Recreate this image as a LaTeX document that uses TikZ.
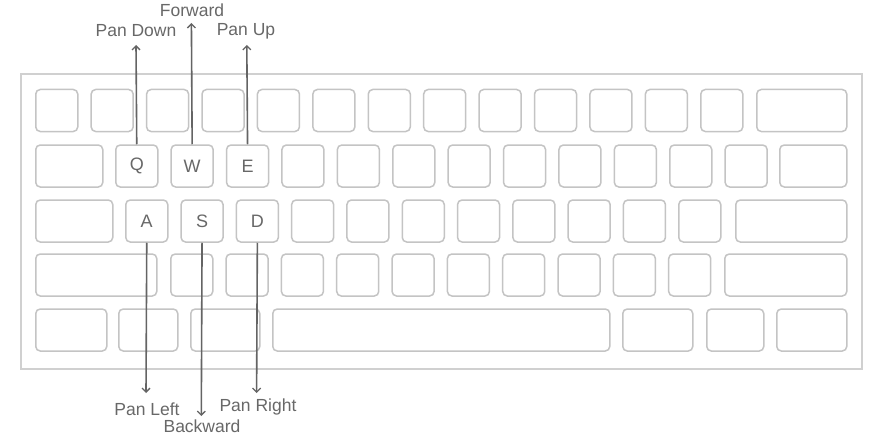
\documentclass[tikz,border=0pt]{standalone}
\usepackage{fontspec}
\setmainfont{Liberation Sans}
\usetikzlibrary{arrows.meta}
\definecolor{keyline}{HTML}{C4C4C4}
\definecolor{frameline}{HTML}{D0D0D0}
\definecolor{inkgray}{HTML}{686868}
\definecolor{arrowgray}{HTML}{646464}
\begin{document}
\begin{tikzpicture}[x=1pt,y=-1pt,
  keybox/.style={draw=keyline,line width=1.5pt,rounded corners=4.5pt,minimum height=42pt,inner sep=0pt,
     font=\fontsize{18}{18}\selectfont,text=inkgray,anchor=west},
  lbl/.style={font=\fontsize{17.5}{17.5}\selectfont,text=inkgray,anchor=base,inner sep=0pt},
  conn/.style={draw=arrowgray,line width=1.6pt,-{Straight Barb[length=4pt,width=8pt,line width=1.3pt]}}]
\useasboundingbox (0,0) rectangle (877,441);
\fill[white] (0,0) rectangle (877,441);
% frame
\node[draw=frameline,line width=2pt,minimum width=841pt,minimum height=295pt,inner sep=0pt,anchor=north west] (frame) at (20,73) {};
% row 1
\foreach \i in {0,...,12} {
  \node[keybox,minimum width=42pt] (ra\i) at ({35+55.42*\i},110.5) {};
}
\node[keybox,minimum width=90pt] (rawide) at (756,110.5) {};
% row 2
\node[keybox,minimum width=67pt] (rbl) at (35,166) {};
\node[keybox,minimum width=42pt] (Q) at (115,166) {Q};
\node[keybox,minimum width=42pt] (W) at (170.4,166) {W};
\node[keybox,minimum width=42pt] (E) at (225.8,166) {E};
\foreach \i in {3,...,11} {
  \node[keybox,minimum width=42pt] (rb\i) at ({115+55.4*\i},166) {};
}
\node[keybox,minimum width=67pt] (rbr) at (779,166) {};
% row 3
\node[keybox,minimum width=77pt] (rcl) at (35,221) {};
\node[keybox,minimum width=42pt] (A) at (125,221) {A};
\node[keybox,minimum width=42pt] (S) at (180.3,221) {S};
\node[keybox,minimum width=42pt] (D) at (235.6,221) {D};
\foreach \i in {3,...,10} {
  \node[keybox,minimum width=42pt] (rc\i) at ({125+55.3*\i},221) {};
}
\node[keybox,minimum width=111pt] (rcr) at (735,221) {};
% row 4
\node[keybox,minimum width=121pt] (rdl) at (35,275) {};
\foreach \i in {0,...,9} {
  \node[keybox,minimum width=42pt] (rd\i) at ({170+55.33*\i},275) {};
}
\node[keybox,minimum width=122pt] (rdr) at (724,275) {};
% row 5
\node[keybox,minimum width=71pt] (re1) at (35,330) {};
\node[keybox,minimum width=59pt] (re2) at (118,330) {};
\node[keybox,minimum width=69pt] (re3) at (190,330) {};
\node[keybox,minimum width=337pt] (space) at (272,330) {};
\node[keybox,minimum width=70pt] (re5) at (622,330) {};
\node[keybox,minimum width=57pt] (re6) at (706,330) {};
\node[keybox,minimum width=70pt] (re7) at (776,330) {};
% arrow ends
\coordinate (tq) at (136,45);
\coordinate (tw) at (191.4,23);
\coordinate (te) at (246.8,45);
\coordinate (ta) at (146,393);
\coordinate (ts) at (201.3,416);
\coordinate (td) at (256.6,393);
\draw[conn] (Q.north) -- (tq);
\draw[conn] (W.north) -- (tw);
\draw[conn] (E.north) -- (te);
\draw[conn] (A.south) -- (ta);
\draw[conn] (S.south) -- (ts);
\draw[conn] (D.south) -- (td);
% labels
\node[lbl] (lq) at (136,37) {Pan Down};
\node[lbl] (lw) at (192,17) {Forward};
\node[lbl] (le) at (246,36) {Pan Up};
\node[lbl] (la) at (147,415) {Pan Left};
\node[lbl] (ls) at (202,432) {Backward};
\node[lbl] (ld) at (258,411) {Pan Right};
\end{tikzpicture}
\end{document}
